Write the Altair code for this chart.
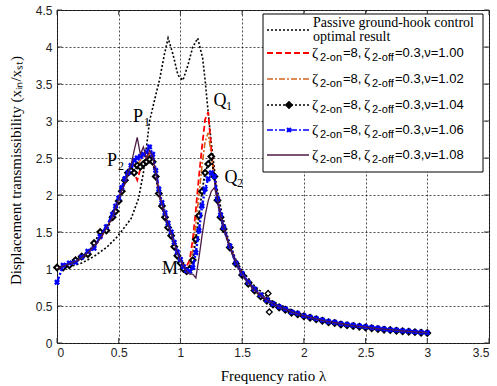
import altair as alt
import pandas as pd

# ---------------- data ----------------
X = [0.00, 0.05, 0.10, 0.15, 0.20, 0.25, 0.30, 0.35, 0.40,
     0.45, 0.475, 0.50, 0.525, 0.55, 0.575, 0.60, 0.625, 0.65, 0.675, 0.70, 0.725, 0.75, 0.775,
     0.80, 0.825, 0.85, 0.875, 0.90, 0.925, 0.95, 0.975, 1.00, 1.025, 1.05,
     1.075, 1.10, 1.125, 1.15, 1.175, 1.20, 1.225, 1.25, 1.275, 1.30, 1.325, 1.35,
     1.40, 1.45, 1.50, 1.55, 1.60, 1.65, 1.70, 1.75, 1.80, 1.85, 1.90, 1.95, 2.00, 2.05,
     2.10, 2.15, 2.20, 2.25, 2.30, 2.35, 2.40, 2.45, 2.50, 2.55, 2.60, 2.65, 2.70, 2.75,
     2.80, 2.85, 2.90, 2.95, 3.00]

Y_V100 = [1.00, 1.03, 1.08, 1.10, 1.16, 1.21, 1.31, 1.40, 1.56,
          1.70, 1.84, 1.96, 2.05, 2.20, 2.30, 2.38, 2.30, 2.20, 2.35, 2.45, 2.50, 2.55, 2.48,
          2.28, 2.04, 1.86, 1.72, 1.58, 1.46, 1.33, 1.22, 1.12, 1.06, 1.04,
          1.12, 1.40, 1.80, 2.25, 2.65, 3.02, 3.12, 2.62, 2.25, 1.95, 1.73, 1.56,
          1.31, 1.09, 0.94, 0.82, 0.72, 0.64, 0.58, 0.53, 0.49, 0.455, 0.42, 0.395, 0.37, 0.345,
          0.32, 0.305, 0.29, 0.275, 0.26, 0.247, 0.235, 0.225, 0.215, 0.205, 0.195, 0.187, 0.18, 0.172,
          0.165, 0.158, 0.15, 0.145, 0.14]

Y_V102 = [1.00, 1.05, 1.06, 1.11, 1.14, 1.23, 1.29, 1.43, 1.54,
          1.73, 1.81, 1.97, 2.08, 2.17, 2.29, 2.37, 2.44, 2.40, 2.47, 2.52, 2.50, 2.56, 2.49,
          2.31, 2.06, 1.87, 1.73, 1.61, 1.47, 1.34, 1.21, 1.11, 1.03, 1.00,
          1.05, 1.25, 1.60, 2.00, 2.40, 2.72, 2.84, 2.55, 2.22, 1.93, 1.72, 1.55,
          1.30, 1.08, 0.93, 0.81, 0.72, 0.64, 0.58, 0.53, 0.49, 0.455, 0.42, 0.395, 0.37, 0.345,
          0.325, 0.305, 0.29, 0.275, 0.26, 0.247, 0.235, 0.225, 0.215, 0.205, 0.195, 0.187, 0.18, 0.172,
          0.165, 0.158, 0.15, 0.145, 0.14]

Y_V104 = [1.02, 1.02, 1.05, 1.12, 1.17, 1.20, 1.35, 1.50, 1.52,
          1.70, 1.78, 1.92, 2.05, 2.20, 2.30, 2.33, 2.30, 2.40, 2.38, 2.42, 2.45, 2.48, 2.45,
          2.25, 2.02, 1.85, 1.70, 1.56, 1.45, 1.30, 1.18, 1.08, 1.00, 0.97,
          1.00, 1.12, 1.40, 1.72, 2.05, 2.30, 2.42, 2.52, 2.25, 1.93, 1.70, 1.54,
          1.29, 1.07, 0.92, 0.80, 0.71, 0.63, 0.57, 0.52, 0.48, 0.45, 0.41, 0.39, 0.36, 0.34,
          0.32, 0.30, 0.28, 0.27, 0.25, 0.24, 0.23, 0.22, 0.21, 0.20, 0.19, 0.18, 0.175, 0.167,
          0.16, 0.153, 0.147, 0.14, 0.135]

Y_V106 = [0.82, 1.05, 1.08, 1.09, 1.16, 1.24, 1.28, 1.44, 1.57,
          1.74, 1.85, 1.96, 2.10, 2.22, 2.30, 2.40, 2.47, 2.50, 2.52, 2.55, 2.58, 2.65, 2.55,
          2.33, 2.08, 1.90, 1.76, 1.62, 1.50, 1.36, 1.23, 1.13, 1.03, 0.98,
          0.97, 1.02, 1.22, 1.52, 1.85, 2.08, 2.22, 2.30, 2.25, 1.95, 1.73, 1.56,
          1.31, 1.08, 0.94, 0.82, 0.73, 0.65, 0.58, 0.53, 0.49, 0.46, 0.42, 0.40, 0.37, 0.35,
          0.33, 0.31, 0.29, 0.28, 0.26, 0.25, 0.24, 0.23, 0.22, 0.21, 0.20, 0.19, 0.18, 0.175,
          0.165, 0.16, 0.15, 0.145, 0.14]

Y_V108 = [1.00, 1.04, 1.07, 1.10, 1.15, 1.22, 1.31, 1.41, 1.55,
          1.70, 1.83, 1.94, 2.06, 2.15, 2.30, 2.40, 2.60, 2.78, 2.55, 2.65, 2.50, 2.60, 2.52,
          2.30, 2.05, 1.88, 1.74, 1.60, 1.48, 1.35, 1.22, 1.12, 1.04, 0.97,
          0.93, 0.93, 0.88, 1.15, 1.45, 1.72, 1.92, 2.05, 2.10, 1.95, 1.73, 1.56,
          1.30, 1.08, 0.93, 0.81, 0.72, 0.64, 0.58, 0.53, 0.49, 0.455, 0.42, 0.395, 0.37, 0.345,
          0.325, 0.305, 0.29, 0.275, 0.26, 0.247, 0.235, 0.225, 0.215, 0.205, 0.195, 0.187, 0.18, 0.172,
          0.165, 0.158, 0.15, 0.145, 0.14]

# stray diamonds of the v=1.04 run
X_V104_EXTRA = [1.71, 1.72]
Y_V104_EXTRA = [0.67, 0.42]

# passive ground-hook optimal result
X_PASSIVE = [0.0, 0.1, 0.2, 0.3, 0.4, 0.48, 0.55, 0.6, 0.66, 0.7, 0.75, 0.8, 0.83, 0.87, 0.9,
             0.94, 0.98, 1.02, 1.06, 1.1, 1.14, 1.18, 1.2, 1.22, 1.25, 1.29, 1.33, 1.38, 1.45,
             1.5, 1.6, 1.75, 2.0, 2.25, 2.5, 2.75, 3.0]
Y_PASSIVE = [1.0, 1.03, 1.08, 1.17, 1.29, 1.42, 1.57, 1.68, 1.95, 2.3, 3.0, 3.35, 3.55, 3.9, 4.12,
             3.9, 3.62, 3.55, 3.75, 4.0, 4.12, 3.85, 3.55, 3.2, 2.7, 2.15, 1.8, 1.45, 1.12,
             0.98, 0.77, 0.56, 0.37, 0.27, 0.2, 0.16, 0.13]

X_TICKS = [0, 0.5, 1, 1.5, 2, 2.5, 3, 3.5]
Y_TICKS = [0, 0.5, 1, 1.5, 2, 2.5, 3, 3.5, 4, 4.5]

ANN_TEXT = ["P", "P", "Q", "Q", "M"]
ANN_SUB = ["1", "2", "1", "2", ""]
ANN_X = [0.656, 0.446, 1.32, 1.41, 0.915]
ANN_Y = [3.05, 2.46, 3.27, 2.23, 1.0]

NU_LABELS = ["1.00", "1.02", "1.04", "1.06", "1.08"]

# ---------------- chart ----------------
W, H = 432, 333
SERIF = "Liberation Serif"
SANS = "Liberation Sans"

xs = alt.Scale(domain=[0, 3.5], nice=False, zero=False)
ys = alt.Scale(domain=[0, 4.5], nice=False, zero=False)

x_axis = alt.Axis(values=X_TICKS, format="~g", grid=True, gridDash=[2, 2], gridColor="black",
                  gridWidth=0.7, gridOpacity=1, domain=False, ticks=False,
                  labelFont=SANS, labelFontSize=12, labelColor="#222", labelPadding=4,
                  title="Frequency ratio λ", titleFont=SERIF, titleFontSize=15,
                  titleFontWeight="normal", titleColor="black", titleX=216, titleY=32,
                  titleBaseline="middle", titleAlign="center")
y_axis = alt.Axis(values=Y_TICKS, format="~g", grid=True, gridDash=[2, 2], gridColor="black",
                  gridWidth=0.7, gridOpacity=1, domain=False, ticks=False,
                  labelFont=SANS, labelFontSize=12, labelColor="#222", labelPadding=5,
                  title="Displacement transmissibility (xᵢₙ/xₛₜ)", titleFont=SERIF,
                  titleFontSize=15, titleFontWeight="normal", titleColor="black",
                  titleX=-42, titleY=160, titleAngle=-90, titleBaseline="middle",
                  titleAlign="center")

XE = alt.X("x:Q", scale=xs, axis=x_axis)
YE = alt.Y("y:Q", scale=ys, axis=y_axis)


def df(xv, yv):
    return pd.DataFrame({"x": xv, "y": yv})


layers = []

# inward ticks on four sides
xt = pd.DataFrame({"x": X_TICKS})
yt = pd.DataFrame({"y": Y_TICKS})
layers.append(alt.Chart(xt).mark_rule(color="#333", strokeWidth=1).encode(
    x=alt.X("x:Q", scale=xs, axis=x_axis), y=alt.value(H), y2=alt.value(H - 5)))
layers.append(alt.Chart(xt).mark_rule(color="#333", strokeWidth=1).encode(
    x=alt.X("x:Q", scale=xs, axis=x_axis), y=alt.value(0), y2=alt.value(5)))
layers.append(alt.Chart(yt).mark_rule(color="#333", strokeWidth=1).encode(
    y=alt.Y("y:Q", scale=ys, axis=y_axis), x=alt.value(0), x2=alt.value(5)))
layers.append(alt.Chart(yt).mark_rule(color="#333", strokeWidth=1).encode(
    y=alt.Y("y:Q", scale=ys, axis=y_axis), x=alt.value(W), x2=alt.value(W - 5)))

# passive
layers.append(alt.Chart(df(X_PASSIVE, Y_PASSIVE)).mark_line(
    color="black", strokeDash=[2, 2], strokeWidth=1.6).encode(x=XE, y=YE))
# v = 1.00 red dashed
layers.append(alt.Chart(df(X, Y_V100)).mark_line(
    color="#ff0000", strokeDash=[6, 3], strokeWidth=1.8).encode(x=XE, y=YE))
# v = 1.02 orange dash-dot
layers.append(alt.Chart(df(X, Y_V102)).mark_line(
    color="#d4641c", strokeDash=[6, 2, 2, 2], strokeWidth=1.6).encode(x=XE, y=YE))
# v = 1.04 black dotted with diamonds
layers.append(alt.Chart(df(X, Y_V104)).mark_line(
    color="black", strokeDash=[2, 2], strokeWidth=1.8).encode(x=XE, y=YE))
layers.append(alt.Chart(df(X, Y_V104)).mark_point(
    shape="diamond", size=32, filled=True, fill="white", stroke="black", strokeWidth=2,
    opacity=1).encode(x=XE, y=YE))
layers.append(alt.Chart(df(X_V104_EXTRA, Y_V104_EXTRA)).mark_point(
    shape="diamond", size=34, filled=True, fill="white", stroke="black", strokeWidth=1.3,
    opacity=1).encode(x=XE, y=YE))
# v = 1.06 blue dash-dot with x markers
layers.append(alt.Chart(df(X, Y_V106)).mark_line(
    color="#0000ff", strokeDash=[6, 2, 2, 2], strokeWidth=2.4).encode(x=XE, y=YE))
layers.append(alt.Chart(df(X, Y_V106)).mark_point(
    shape="cross", angle=45, size=36, filled=True, color="#0000ff", opacity=1).encode(x=XE, y=YE))
# v = 1.08 purple solid
layers.append(alt.Chart(df(X, Y_V108)).mark_line(
    color="#4d1c45", strokeWidth=1.3).encode(x=XE, y=YE))

# annotations P1 P2 Q1 Q2 M
ann = pd.DataFrame({"x": ANN_X, "y": ANN_Y, "t": ANN_TEXT, "s": ANN_SUB})
layers.append(alt.Chart(ann).mark_text(font=SERIF, fontSize=18, color="black",
                                       align="center", baseline="middle").encode(
    x=XE, y=YE, text="t:N"))
layers.append(alt.Chart(ann).mark_text(font=SERIF, fontSize=12, color="black",
                                       align="center", baseline="middle", dx=9, dy=5).encode(
    x=XE, y=YE, text="s:N"))

# ---------------- legend ----------------
one = pd.DataFrame({"a": [0]})
layers.append(alt.Chart(one).mark_rect(fill="white", stroke="black", strokeWidth=1).encode(
    x=alt.value(206), x2=alt.value(426), y=alt.value(4), y2=alt.value(162)))

LX0, LX1, LXM, TX = 210, 252, 232, 256
# passive entry
layers.append(alt.Chart(one).mark_rule(color="black", strokeDash=[2, 2], strokeWidth=1.6).encode(
    x=alt.value(LX0), x2=alt.value(LX1), y=alt.value(20)))
layers.append(alt.Chart(one).mark_text(font=SERIF, fontSize=14, align="left", baseline="middle",
                                       color="black", text="Passive ground-hook  control").encode(
    x=alt.value(TX), y=alt.value(13)))
layers.append(alt.Chart(one).mark_text(font=SERIF, fontSize=14, align="left", baseline="middle",
                                       color="black", text="optimal result").encode(
    x=alt.value(TX), y=alt.value(27)))

styles = [
    dict(color="#ff0000", strokeDash=[6, 3], strokeWidth=1.8),
    dict(color="#d4641c", strokeDash=[6, 2, 2, 2], strokeWidth=1.6),
    dict(color="black", strokeDash=[2, 2], strokeWidth=1.5),
    dict(color="#0000ff", strokeDash=[6, 2, 2, 2], strokeWidth=1.6),
    dict(color="#4d1c45", strokeWidth=1.5),
]
row_y = [43, 69, 95, 120, 145]
for i, nu in enumerate(NU_LABELS):
    ry = row_y[i]
    layers.append(alt.Chart(one).mark_rule(**styles[i]).encode(
        x=alt.value(LX0), x2=alt.value(LX1), y=alt.value(ry)))
    if i == 2:
        layers.append(alt.Chart(one).mark_point(shape="diamond", size=34, filled=True, fill="black",
                                                stroke="black", opacity=1).encode(
            x=alt.value(LXM), y=alt.value(ry)))
    if i == 3:
        layers.append(alt.Chart(one).mark_point(shape="cross", angle=45, size=30, filled=True,
                                                color="#0000ff", opacity=1).encode(
            x=alt.value(LXM), y=alt.value(ry)))
    pieces = [
        (255, 0, "ζ", SERIF, 15),
        (263, 5, "2-on", SANS, 11),
        (286, 0, "=8,", SANS, 13),
        (307, 0, "ζ", SERIF, 15),
        (315, 5, "2-off", SANS, 11),
        (338, 0, "=0.3,ν=" + nu, SANS, 13),
    ]
    for px, off, txt, fnt, fs in pieces:
        layers.append(alt.Chart(one).mark_text(font=fnt, fontSize=fs, align="left",
                                               baseline="middle", color="black", text=txt).encode(
            x=alt.value(px), y=alt.value(ry + off)))

chart = alt.layer(*layers).properties(
    width=W, height=H,
    autosize=alt.AutoSizeParams(type="none"),
    padding={"left": 57, "top": 10, "right": 8, "bottom": 43},
    background="white",
).configure_view(stroke="#333", strokeWidth=1)

chart.save("out.html", embed_options={"renderer": "svg", "actions": False})
